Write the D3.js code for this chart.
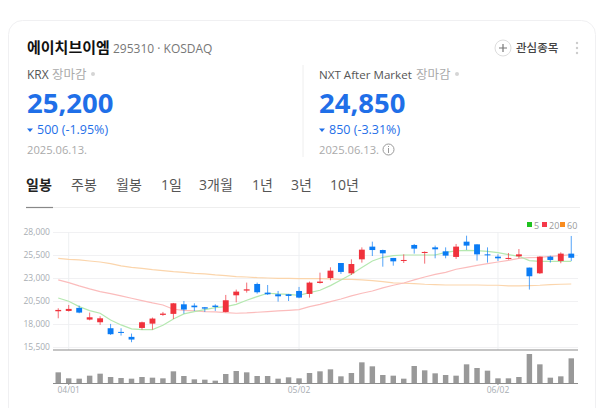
<!DOCTYPE html>
<html>
<head>
<meta charset="utf-8">
<script src="https://cdn.jsdelivr.net/npm/d3@7"></script>
<style>
html,body{margin:0;padding:0;background:#fff;overflow:hidden}
text{font-family:"Open Sans","Noto Sans CJK KR",sans-serif}
</style>
</head>
<body>
<svg id="page" width="600" height="408"></svg>
<script>
// trading days (05/05, 05/06, 06/03, 06/06 are closed)
var dates = ["03/31","04/01","04/02","04/03","04/04","04/07","04/08","04/09","04/10","04/11",
	"04/14","04/15","04/16","04/17","04/18","04/21","04/22","04/23","04/24","04/25",
	"04/28","04/29","04/30","05/02","05/07","05/08","05/09","05/12","05/13","05/14",
	"05/15","05/16","05/19","05/20","05/21","05/22","05/23","05/26","05/27","05/28",
	"05/29","05/30","06/02","06/04","06/05","06/09","06/10","06/11","06/12","06/13"];
var opens = [19385,19420,19750,18480,18190,17540,17140,16600,17570,18040,18990,19100,20140,20000,19820,20000,19310,21120,21630,22350,
	21410,21230,21230,21590,21270,22460,23000,24630,23510,25030,26410,26040,25180,24890,26590,25720,26330,25900,25290,26950,
	26660,25570,25320,25070,25360,24130,23510,25320,24850,25650];
var closes = [19530,19640,19240,18730,18620,16890,17030,16310,18190,18590,19130,20250,19570,19820,19670,19850,20580,21520,21770,21450,
	21230,21010,21050,20870,22500,22610,23800,23660,24520,26080,26040,25680,24810,24960,26190,25830,26120,25430,26410,26520,
	25570,25470,25140,25180,25570,23190,25320,24960,25650,25200];
var highs = [19710,20070,20000,19240,18840,18010,17540,16960,18260,18700,19310,20290,20500,20250,19850,20140,21160,21740,22500,22500,
	22240,21590,21270,22030,22610,23580,24160,24630,25030,26330,26950,26080,25180,25570,26700,25900,26520,26330,26700,27600,
	26660,26330,25570,25720,26150,24130,25360,25430,25790,27570];
var lows = [18620,19350,19170,18400,17900,16810,16740,16020,17390,17390,18880,18550,19130,19420,19310,19420,19270,20360,21410,21300,
	21160,20430,20500,20800,20870,22390,22750,23440,23330,24670,25390,24230,24340,24630,25650,24560,25140,25140,25070,26050,
	24890,24670,24850,25000,25140,21740,23440,24670,24600,24850];
var ma5 = [20830,20470,19890,19460,19170,18440,17900,17470,17390,17390,17860,18550,19100,19350,19570,19780,19890,20140,20580,20980,
	21340,21270,21230,21120,21410,21670,22170,22790,23400,24130,24850,25250,25430,25500,25500,25500,25500,25790,25940,26010,
	25970,25900,25760,25540,25360,24890,24810,24810,24810,24810];
var ma20 = [22790,22500,22140,21810,21520,21300,21050,20800,20540,20290,20070,19600,19490,19420,19350,19310,19240,19170,19200,19280,
	19350,19420,19490,19570,19890,20140,20430,20720,21050,21340,21590,21920,22210,22460,22790,23110,23400,23620,23950,24160,
	24380,24560,24740,24920,25140,25210,25250,25360,25430,25540];
var ma60 = [25140,25030,24960,24850,24740,24560,24310,24160,24050,23910,23800,23690,23620,23510,23440,23330,23260,23150,23110,23040,
	23000,22970,22970,22930,22930,22930,22900,22860,22860,22790,22710,22610,22460,22430,22390,22320,22280,22240,22240,22240,
	22240,22210,22210,22140,22140,22170,22210,22280,22320,22350];
var volumes = [32,14,13,22,28,18,15,13,18,16,14,35,21,11,10,7,27,36,32,21,
	21,13,17,14,30,35,41,20,30,62,50,24,22,13,51,38,29,24,22,56,
	45,37,14,14,18,87,56,16,20,74];
var priceTicks = [28000,25500,23000,20500,18000,15500];
var dateTicks = ["04/01","05/02","06/02"];
var tabs = ["일봉","주봉","월봉","1일","3개월","1년","3년","10년"];
var tabX = [26,71,116,161,199,252,291,330];
var legendNames = ["5","20","60"];
var legendColors = ["#1fc21f","#f5394a","#f98c1e"];
var maColors = ["#b5e8b0","#fbbcbc","#fbd5ac"];

var up = "#f0323c", down = "#0a7cf5", blueText = "#1f6fe8";

var svg = d3.select("#page");

//card outline, runs off the bottom of the page
svg.append("rect").attr("x",8.5).attr("y",20.5).attr("width",587).attr("height",420).attr("rx",14)
	.attr("fill","#fff").attr("stroke","#f0f0f2");

function label(x,y,str,size,color,weight){
	return svg.append("text").attr("x",x).attr("y",y).text(str)
		.attr("font-size",size).attr("fill",color).attr("font-weight",weight||400);
}

//header
label(27,53,"에이치브이엠",15,"#111",700);
label(113,53,"295310 · KOSDAQ",12,"#777");
svg.append("circle").attr("cx",503).attr("cy",48).attr("r",8).attr("fill","#fff").attr("stroke","#ddd");
svg.append("path").attr("d","M499 48H507M503 44V52").attr("stroke","#777").attr("stroke-width",1.2);
label(516,52,"관심종목",11.5,"#444",500);
svg.selectAll(".dot3").data([43,48,53]).enter().append("circle").attr("class","dot3")
	.attr("cx",577).attr("cy",function(d){return d}).attr("r",1.2).attr("fill","#ccc");

//the two price blocks
function quote(x,name,nameSize,nameW,price,change,date){
	label(x,79,name,nameSize,"#555");
	label(x+nameW,79,"장마감",12.5,"#aaa");
	svg.append("circle").attr("cx",x+nameW+41).attr("cy",74).attr("r",2).attr("fill","#d5d5d5");
	label(x,113,price,27.5,blueText,700);
	svg.append("path").attr("d","M"+x+" 128.5h6l-3 3.5z").attr("fill",blueText);
	label(x+10,134,change,12.5,blueText);
	label(x,154,date,11.2,"#aaa");
}
quote(27,"KRX",12,25,"25,200","500 (-1.95%)","2025.06.13.");
quote(319,"NXT After Market",11.6,97,"24,850","850 (-3.31%)","2025.06.13.");
svg.append("line").attr("x1",303).attr("x2",303).attr("y1",65).attr("y2",157).attr("stroke","#eee");
svg.append("circle").attr("cx",388.5).attr("cy",149.5).attr("r",5.5).attr("fill","none").attr("stroke","#999");
svg.append("path").attr("d","M388.5 148V153M388.5 146V147").attr("stroke","#999");

//tabs
svg.selectAll(".tab").data(tabs).enter().append("text").attr("class","tab")
	.attr("x",function(d,i){return tabX[i]}).attr("y",190)
	.attr("font-size",14).attr("font-weight",function(d,i){return i==0?700:400})
	.attr("fill",function(d,i){return i==0?"#222":"#555"})
	.text(function(d){return d});
svg.append("line").attr("x1",26).attr("x2",580).attr("y1",207.5).attr("y2",207.5).attr("stroke","#eee");
svg.append("line").attr("x1",26).attr("x2",53).attr("y1",207.5).attr("y2",207.5).attr("stroke","#888").attr("stroke-width",1.2);

//scales
var x = d3.scaleBand().domain(dates).range([53,576.5]);
var y = d3.scaleLinear().domain([15500,28000]).range([347,232]);
var yVol = d3.scaleLinear().domain([0,d3.max(volumes)]).range([383,354]);
function cx(i){return x(dates[i])+x.bandwidth()/2}

//price axis + horizontal grid
var yAxis = svg.append("g").attr("transform","translate(53,0)")
	.call(d3.axisLeft(y).tickValues(priceTicks).tickSize(-525).tickPadding(3).tickFormat(d3.format(",")));
yAxis.select(".domain").remove();
yAxis.selectAll("line").attr("stroke","#f1f1f3");
yAxis.selectAll("text").attr("fill","#a8adb3").attr("font-size",8.5);

//vertical grid on the date ticks
svg.selectAll(".vgrid").data(dateTicks).enter().append("line").attr("class","vgrid")
	.attr("x1",function(d){return x(d)+x.bandwidth()/2}).attr("x2",function(d){return x(d)+x.bandwidth()/2})
	.attr("y1",232).attr("y2",350).attr("stroke","#eef0f2");

//moving averages
var line = d3.line().x(function(d,i){return cx(i)}).y(function(d){return y(d)});
svg.selectAll(".ma").data([ma60,ma20,ma5]).enter().append("path").attr("class","ma")
	.attr("d",line).attr("fill","none").attr("stroke-width",1.2)
	.attr("stroke",function(d,i){return maColors[2-i]});

//candles
var candles = svg.selectAll(".candle").data(dates).enter().append("g").attr("class","candle");
candles.append("line")
	.attr("x1",function(d,i){return cx(i)}).attr("x2",function(d,i){return cx(i)})
	.attr("y1",function(d,i){return y(highs[i])}).attr("y2",function(d,i){return y(lows[i])})
	.attr("stroke",function(d,i){return closes[i]>=opens[i]?up:down}).attr("stroke-opacity",0.7);
candles.append("rect")
	.attr("x",function(d,i){return cx(i)-x.bandwidth()*0.28}).attr("width",x.bandwidth()*0.56)
	.attr("y",function(d,i){return y(Math.max(opens[i],closes[i]))})
	.attr("height",function(d,i){return Math.max(1,Math.abs(y(opens[i])-y(closes[i])))})
	.attr("fill",function(d,i){return closes[i]>=opens[i]?up:down});

//price baseline
svg.append("line").attr("x1",53).attr("x2",578).attr("y1",350).attr("y2",350).attr("stroke","#8c8c8c").attr("stroke-width",1.2);

//volume
svg.selectAll(".vol").data(volumes).enter().append("rect").attr("class","vol")
	.attr("x",function(d,i){return cx(i)-x.bandwidth()*0.26}).attr("width",x.bandwidth()*0.52)
	.attr("y",function(d){return yVol(d)}).attr("height",function(d){return 383-yVol(d)})
	.attr("fill","#999");

var xAxis = svg.append("g").attr("transform","translate(0,383)")
	.call(d3.axisBottom(x).tickValues(dateTicks).tickSize(2).tickPadding(2));
xAxis.select(".domain").attr("d","M53 0.5H578").attr("stroke","#8c8c8c").attr("stroke-width",1.2);
xAxis.selectAll("line").attr("stroke","#8c8c8c");
xAxis.selectAll("text").attr("fill","#a8adb3").attr("font-size",8.5);

//legend
var legendX = [527,542,560];
var legend = svg.selectAll(".leg").data(legendNames).enter().append("g").attr("class","leg")
	.attr("transform",function(d,i){return "translate("+legendX[i]+",222)"});
legend.append("rect").attr("width",5).attr("height",5).attr("fill",function(d,i){return legendColors[i]});
legend.append("text").attr("x",7).attr("y",6.5).attr("font-size",9).attr("fill","#999").text(function(d){return d});
</script>
</body>
</html>
